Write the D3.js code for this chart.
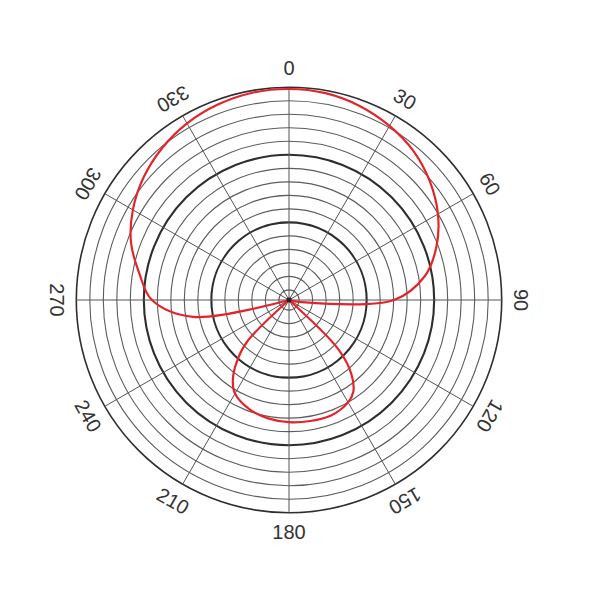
<!DOCTYPE html>
<html>
<head>
<meta charset="utf-8">
<script src="https://cdn.jsdelivr.net/npm/d3@7"></script>
<style>
  html, body { margin: 0; padding: 0; background: #fff; }
  svg { display: block; }
</style>
</head>
<body>
<svg id="chart" width="600" height="600"></svg>
<script>
// ---- data ----
const angleTicks = [0, 30, 60, 90, 120, 150, 180, 210, 240, 270, 300, 330];
const ringLevels = [-30, -28, -26, -24, -22, -20, -18, -16, -14, -12, -10, -8, -6, -4, -2, 0];
const majorRings = [-20, -10, 0];
const patternAngles = [0, 10, 20, 30, 40, 50, 60, 70, 80, 90, 100, 110, 120, 130,
                       135, 140, 145, 150, 160, 170, 180, 190, 200, 210, 215, 220, 225,
                       230, 240, 250, 260, 270, 280, 290, 300, 310, 320, 330, 340, 350];
const patternDb = [-0.25, -0.4, -0.92, -1.73, -2.77, -4.25, -6.03, -8.25, -11.06, -15.95, -29.7, -31.5, -31.5, -31.5,
                   -21.1, -17.1, -14.9, -14.0, -13.3, -13.3, -13.4, -13.7, -14.3, -15.5, -17.0, -19.4, -22.6,
                   -31.5, -31.5, -31.5, -17.1, -11.2, -9.0, -6.6, -4.8, -3.35, -2.2, -1.3, -0.7, -0.33];

// ---- layout ----
const cx = 289, cy = 300, R = 212.7, labelR = 232;
const svg = d3.select("#chart");
const g = svg.append("g").attr("transform", `translate(${cx},${cy})`);

const r = d3.scaleLinear().domain([-31.5, 0]).range([0, R]);
const toRad = d => d * Math.PI / 180;

// rings
g.selectAll("circle.ring")
  .data(ringLevels)
  .join("circle")
  .attr("class", "ring")
  .attr("r", d => r(d))
  .attr("fill", "none")
  .attr("stroke", d => majorRings.includes(d) ? "#2e2e2e" : "#5c5c5c")
  .attr("stroke-width", d => d === 0 ? 1.6 : (majorRings.includes(d) ? 2.1 : 1.1));

// spokes
g.selectAll("line.spoke")
  .data(angleTicks)
  .join("line")
  .attr("class", "spoke")
  .attr("x1", 0).attr("y1", 0)
  .attr("x2", d => R * Math.sin(toRad(d)))
  .attr("y2", d => -R * Math.cos(toRad(d)))
  .attr("stroke", "#555")
  .attr("stroke-width", 1);

// labels
g.selectAll("text.alabel")
  .data(angleTicks)
  .join("text")
  .attr("class", "alabel")
  .attr("transform", d => {
    const x = labelR * Math.sin(toRad(d));
    const y = -labelR * Math.cos(toRad(d));
    return `translate(${x},${y}) rotate(${d % 180})`;
  })
  .attr("text-anchor", "middle")
  .attr("dominant-baseline", "central")
  .attr("font-family", "'Liberation Sans', Arial, sans-serif")
  .attr("font-size", 20)
  .attr("fill", "#333")
  .text(d => d);

// pattern curve
const pts = patternAngles.map((a, i) => [toRad(a), r(patternDb[i])]);
const line = d3.lineRadial()
  .angle(d => d[0])
  .radius(d => d[1])
  .curve(d3.curveCatmullRomClosed.alpha(0.5));

g.append("path")
  .attr("d", line(pts))
  .attr("fill", "none")
  .attr("stroke", "#e3242b")
  .attr("stroke-width", 2.2);

// center dot
g.append("circle").attr("r", 2.5).attr("fill", "#222");
</script>
</body>
</html>
